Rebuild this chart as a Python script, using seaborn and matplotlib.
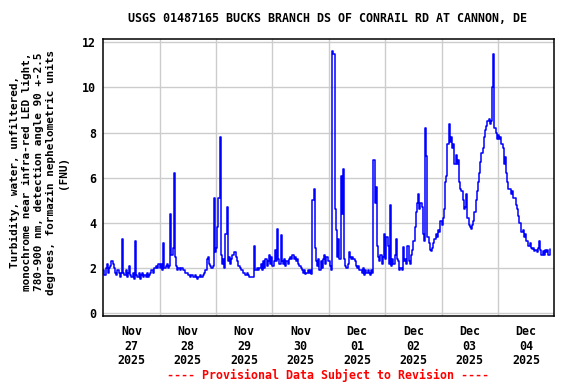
import numpy as np
import pandas as pd
import matplotlib
matplotlib.use("Agg")
import matplotlib.pyplot as plt
import matplotlib.dates as mdates
import seaborn as sns

title = "USGS 01487165 BUCKS BRANCH DS OF CONRAIL RD AT CANNON, DE"
ylabel = ("Turbidity, water, unfiltered,\nmonochrome near infra-red LED light,\n"
          "780-900 nm, detection angle 90 +-2.5\ndegrees, formazin nephelometric units\n(FNU)")
footer = "---- Provisional Data Subject to Revision ----"
tick_labels = ["Nov\n27\n2025", "Nov\n28\n2025", "Nov\n29\n2025", "Nov\n30\n2025",
               "Dec\n01\n2025", "Dec\n02\n2025", "Dec\n03\n2025", "Dec\n04\n2025"]
y_ticks = [0, 2, 4, 6, 8, 10, 12]

# 30-minute readings, one list per day
nov27 = [1.9, 1.7, 2.0, 2.2, 1.8, 2.0, 2.1, 2.3, 2.2, 2.0,
         1.8, 1.7, 1.9, 1.8, 1.6, 1.8, 3.3,
         1.8, 1.7, 1.9, 1.6, 1.8, 2.1, 1.7, 1.6, 1.8, 1.5, 3.2,
         1.7, 1.6, 1.8, 1.5, 1.7, 1.8, 1.6, 1.7, 1.6, 1.8, 1.6, 1.7,
         1.8, 1.9, 1.8, 2.0, 2.0, 2.1, 2.0, 2.2]
nov28 = [2.0, 2.2, 1.9, 3.1, 2.0, 2.1, 2.2, 2.0, 2.1, 4.4, 2.6, 2.9, 6.2, 2.5, 2.1,
         1.9, 2.0, 1.9, 2.0, 2.0, 1.9, 1.9, 1.8, 1.8, 1.7,
         1.7, 1.6, 1.7, 1.6, 1.6, 1.7, 1.6, 1.5, 1.6, 1.7, 1.6, 1.6, 1.7, 1.8, 1.9,
         2.4, 2.5, 2.2, 2.1, 2.0, 2.1, 5.1, 2.7]
nov29 = [2.9, 3.8, 5.1, 7.8, 2.6, 2.2, 2.4, 2.0, 3.5, 4.7, 2.3, 2.5, 2.2, 2.4, 2.6, 2.7,
         2.7, 2.5, 2.3, 2.1, 2.0, 1.9, 1.9, 1.8, 1.8, 1.7, 1.8, 1.7, 1.6, 1.6, 1.6, 1.6,
         3.0, 1.9, 1.9, 2.0, 1.9, 2.0, 2.2, 1.9, 2.3, 2.0, 2.4, 2.1, 2.3, 2.6, 2.2, 2.5]
nov30 = [2.1, 2.3, 2.8, 2.3, 3.75, 2.4, 2.2, 3.45, 2.3, 2.2, 2.4, 2.1, 2.3, 2.2, 2.4, 2.5,
         2.4, 2.6, 2.4, 2.5, 2.3, 2.4, 2.2, 2.1, 2.0, 1.9, 1.8, 1.9, 1.75, 1.8, 1.9, 1.8,
         1.9, 1.75, 5.0, 5.5, 2.9, 2.3, 2.1, 2.4, 1.9, 2.3, 2.0, 2.4, 2.6, 2.2, 2.5, 2.3]
dec01 = [2.3, 2.1, 1.9, 11.6, 11.5, 4.6, 3.7, 2.5, 3.3, 2.4, 6.1, 4.4, 6.4, 2.4, 2.1, 2.0,
         2.2, 2.7, 2.5, 2.4, 2.5, 2.4, 2.3, 2.1, 2.0, 2.1, 1.9, 1.9, 1.8, 2.0, 1.7, 1.9,
         1.8, 1.9, 1.8, 1.7, 1.9, 1.8, 6.8, 4.9, 5.6, 3.0, 2.5, 2.3, 2.6, 2.2, 2.5, 3.5]
dec02 = [2.4, 3.4, 3.0, 2.2, 4.8, 2.1, 2.4, 2.2, 2.6, 3.3, 2.4, 2.3, 1.9, 2.0, 1.9, 2.95,
         2.3, 2.4, 2.2, 3.0, 2.3, 2.2, 2.6, 2.8, 3.2, 3.8, 4.5, 4.9, 5.3, 4.6, 4.9, 4.7,
         3.5, 3.2, 8.2, 6.95, 3.4, 3.1, 2.8, 2.75, 2.9, 3.1, 3.3, 3.5, 3.4, 3.7, 3.6, 4.1]
dec03 = [3.9, 4.2, 4.6, 5.8, 6.1, 7.5, 8.4, 7.6, 7.8, 7.3, 7.5, 6.6, 7.0, 6.6, 6.8, 5.8,
         5.5, 5.4, 5.0, 4.6, 4.7, 5.3, 4.2, 3.9, 3.8, 3.75, 3.9, 4.1, 4.5, 5.0, 5.4, 5.8,
         6.2, 6.7, 7.1, 7.3, 7.8, 8.1, 8.3, 8.5, 8.6, 8.4, 8.5, 10.0, 11.5, 8.2, 8.0, 7.7]
dec04 = [7.9, 7.7, 7.8, 7.5, 7.3, 6.6, 6.9, 6.2, 5.8, 5.5, 5.5, 5.3, 5.4, 5.1, 5.1, 4.8,
         4.6, 4.3, 4.0, 4.0, 3.6, 3.7, 3.4, 3.5, 3.2, 3.2, 3.0, 3.1, 2.9, 2.85, 2.9, 2.75,
         2.8, 2.7, 2.9, 3.2, 2.8, 2.6, 2.75, 2.6, 2.8, 2.7, 2.8, 2.6, 2.85]

values = nov27 + nov28 + nov29 + nov30 + dec01 + dec02 + dec03 + dec04
times = pd.date_range("2025-11-27 00:00", periods=len(values), freq="30min")
df = pd.DataFrame({"time": times, "turbidity": values})

sns.set_style("white")
mono = ["DejaVu Sans Mono"]
plt.rcParams["font.family"] = mono
plt.rcParams["font.weight"] = "bold"
plt.rcParams["text.color"] = "black"
plt.rcParams["xtick.color"] = "black"
plt.rcParams["ytick.color"] = "black"
plt.rcParams["xtick.labelcolor"] = "black"
plt.rcParams["ytick.labelcolor"] = "black"

fig = plt.figure(figsize=(5.76, 3.84), dpi=100)
ax = fig.add_axes([0.1793, 0.1779, 0.9623 - 0.1793, 0.8977 - 0.1779])

sns.lineplot(data=df, x="time", y="turbidity", ax=ax, color="#0000FF",
             linewidth=1.1, drawstyle="steps-post", estimator=None)

start = pd.Timestamp("2025-11-27 00:00")
ax.set_xlim(start, pd.Timestamp("2025-12-05 00:00"))
ax.set_ylim(-0.106, 12.133)

major = [start + pd.Timedelta(days=d) for d in range(1, 8)]
minor = [start + pd.Timedelta(days=d, hours=12) for d in range(8)]
ax.set_xticks(major)
ax.set_xticklabels([])
ax.set_xticks(minor, minor=True)
ax.set_xticklabels(tick_labels, minor=True, fontsize=8.4, fontweight="bold",
                   linespacing=1.12, color="black")
ax.tick_params(axis="x", which="both", length=0, pad=7)
ax.set_yticks(y_ticks)
ax.set_yticklabels([str(v) for v in y_ticks], fontsize=8.4, fontweight="bold",
                   color="black")
ax.tick_params(axis="y", length=0, pad=5)

ax.grid(True, which="major", color="#CCCCCC", linewidth=1.0)
ax.set_axisbelow(True)
for s in ax.spines.values():
    s.set_color("black")
    s.set_linewidth(1.1)
ax.set_xlabel("")
ax.set_ylabel("")

fig.text(39 / 576, 0.552, ylabel, rotation=90, ha="center", va="center",
         fontsize=7.9, fontweight="bold", linespacing=1.22, multialignment="center",
         color="black")
fig.text(328 / 576, 1 - 19 / 384, title, ha="center", va="center",
         fontsize=8.4, fontweight="bold", color="black")
fig.text(328 / 576, 1 - 375 / 384, footer, ha="center", va="center",
         fontsize=8.4, fontweight="bold", color="#FF0000")

fig.savefig("out.png", dpi=100)
